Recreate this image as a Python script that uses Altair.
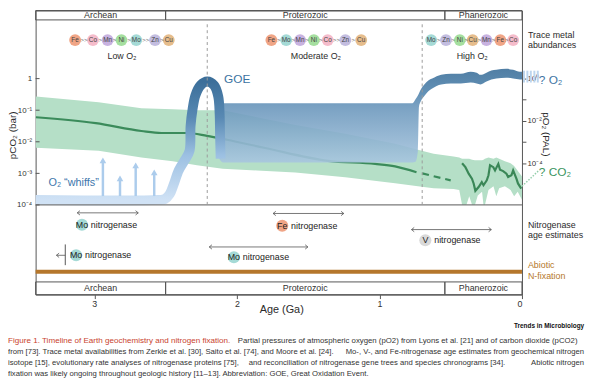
import altair as alt
import pandas as pd

FONT = "Liberation Sans"
INK = "#2b2b2b"
FRAME = "#555555"

# ---------------- data ----------------
era_names = ["Archean", "Proterozoic", "Phanerozoic"]
era_old = [3.412, 2.5, 0.541]
era_young = [2.5, 0.541, 0.0]

# pCO2 envelope (bar)
co2_band_age = [3.41, 2.97, 2.67, 2.45, 2.28, 2.10, 1.86, 1.59, 1.24, 0.89, 0.73, 0.62, 0.48, 0.44,
                0.42, 0.39, 0.37, 0.35, 0.33, 0.31, 0.28, 0.27, 0.26, 0.235, 0.20, 0.18, 0.16, 0.12,
                0.08, 0.055, 0.03, 0.0]
co2_band_hi = [0.27, 0.18, 0.115, 0.107, 0.10, 0.10, 0.060, 0.034, 0.018, 0.0087, 0.0056, 0.0042,
               0.0034, 0.0032, 0.0029, 0.0029, 0.0029, 0.0027, 0.0026, 0.0026, 0.0026, 0.0027, 0.0029,
               0.0032, 0.0029, 0.0032, 0.0029, 0.0024, 0.0021, 0.0017, 0.0012, 0.0008]
co2_band_lo = [0.0065, 0.0052, 0.0032, 0.0024, 0.0018, 0.0014, 0.00124, 0.00107, 0.00075, 0.00049,
               0.00039, 0.00034, 0.00032, 0.00030, 0.0001, 0.0001, 0.00019, 0.0001, 0.0001, 0.0002,
               0.00026, 0.0001, 0.0001, 0.0003, 0.00039, 0.00019, 0.00034, 0.00039, 0.0003, 0.00019,
               0.00026, 0.000145]
# pCO2 central estimate (bar)
co2_line_age = [3.41, 2.99, 2.67, 2.53, 2.35, 2.21, 2.07, 1.81, 1.36, 1.03, 0.89, 0.74]
co2_line_val = [0.060, 0.039, 0.022, 0.019, 0.019, 0.0154, 0.0116, 0.0065, 0.0025, 0.0020, 0.00166, 0.00108]
co2_dash_age = [0.70, 0.50]
co2_dash_val = [0.0010, 0.00060]
co2_phan_age = [0.420, 0.397, 0.385, 0.374, 0.351, 0.339, 0.327, 0.304, 0.282, 0.270, 0.247, 0.235,
                0.224, 0.201, 0.189, 0.166, 0.154, 0.132, 0.109, 0.097, 0.074, 0.062, 0.039, 0.028, 0.005]
co2_phan_val = [0.0021, 0.00157, 0.00124, 0.00098, 0.00068, 0.00048, 0.00028, 0.00037, 0.00053, 0.00042,
                0.00060, 0.00087, 0.0018, 0.00157, 0.00124, 0.0020, 0.0013, 0.00118, 0.00098, 0.00077,
                0.00087, 0.00124, 0.00068, 0.00048, 0.00033]

# pO2 envelope (PAL)
o2_band_age = [2.125, 2.097, 1.585, 0.893, 0.768, 0.747, 0.730, 0.723, 0.706, 0.685, 0.657, 0.630, 0.567,
               0.498, 0.429, 0.360, 0.318, 0.291, 0.249, 0.215, 0.180, 0.111, 0.062, 0.014, 0.0]
o2_band_hi = [0.069, 0.069, 0.069, 0.069, 0.069, 0.105, 0.16, 0.20, 0.34, 0.53, 0.81, 1.0, 1.5, 1.7, 1.7,
              2.1, 1.9, 1.5, 1.9, 2.4, 2.6, 2.9, 2.6, 2.1, 2.1]
o2_band_lo = [0.00017, 0.00011, 0.00011, 0.00011, 0.00011, 0.00012, 0.0004, 0.045, 0.095, 0.15, 0.25,
              0.34, 0.53, 0.59, 0.59, 0.65, 0.59, 0.53, 0.72, 0.90, 1.0, 1.1, 1.0, 0.90, 0.90]
# Archean baseline + GOE arch (PAL)
o2_arch_age = [3.412, 2.554, 2.505, 2.471, 2.443, 2.408, 2.367, 2.332, 2.325, 2.311, 2.291, 2.256,
               2.208, 2.159, 2.131, 2.121, 2.118, 2.114]
o2_arch_val = [1.9e-6, 1.9e-6, 2.1e-6, 3.6e-6, 1.05e-5, 4.7e-5, 1.38e-4, 4.0e-4, 5.8e-3, 0.036, 0.162,
               0.472, 0.725, 0.472, 0.146, 0.0212, 0.0020, 1.7e-4]
# O2 "whiffs"
whiff_age = [2.94, 2.82, 2.71, 2.58]
whiff_top = [1.4e-4, 2.0e-5, 8.1e-5, 3.8e-5]
whiff_base = 2.9e-6

# trace metal abundance sequences
metal_seq = {
    "Low O₂": (["Fe", "Co", "Mn", "Ni", "Mo", "Zn", "Cu"], [3.135, 3.010, 2.907, 2.810, 2.706, 2.574, 2.478],
               [">>", ">", ">", ">", ">>", ">"], 2.806),
    "Moderate O₂": (["Fe", "Mo", "Mn", "Ni", "Co", "Zn", "Cu"], [1.758, 1.654, 1.557, 1.460, 1.363, 1.239, 1.128],
                    [">", ">", ">", ">", ">>", ">"], 1.446),
    "High O₂": (["Mo", "Zn", "Ni", "Cu", "Mn", "Fe", "Co"], [0.637, 0.533, 0.436, 0.346, 0.249, 0.152, 0.062],
                [">", ">", ">", ">", ">", ">"], 0.349),
}
metal_names = ["Fe", "Co", "Mn", "Ni", "Mo", "Zn", "Cu", "V"]
metal_colors = ["#f0a586", "#f5bccb", "#c8b2e0", "#a5df9f", "#a5dad6", "#c3bde0", "#e6bd8c", "#d9d9d9"]

# nitrogenase age estimates
nif_metal = ["Mo", "Fe", "V", "Mo", "Mo"]
nif_old = [3.12, 1.746, 0.775, 2.194, 3.266]
nif_young = [2.692, 1.250, 0.215, 1.502, 3.204]
nif_label_age = [3.087, 1.682, 0.678, 2.021, 3.128]
nif_heads = ["both", "both", "both", "both", "old"]

# ---------------- layout (u = log10 pCO2 units on the left scale) ----------------
U_TOP, U_HEAD = 2.156, 1.859
U_METAL, U_REGIME = 1.219, 0.72
U_DASH_TOP, U_MAIN_BOTTOM = 1.72, -4.0
U_BROWN = (-6.053, -6.178)
U_FOOT, U_BOTTOM = -6.4375, -6.84
NIF_ARROW_U = [-4.25, -4.27, -4.78, -5.33, -5.594]
NIF_LABEL_U = [-4.625, -4.656, -5.12, -5.656, -5.594]

XS = alt.Scale(domain=[0, 3.412], reverse=True, zero=False, nice=False)
YU = alt.Scale(domain=[U_BOTTOM, U_TOP], zero=False, nice=False)
YO = alt.Scale(domain=[-10.186, 3.209], zero=False, nice=False)

x_axis = alt.Axis(values=[3, 2, 1, 0], format="d", tickSize=4, tickColor=FRAME, domain=False, grid=False,
                  labelFontSize=9, labelColor="#333", labelPadding=1, title="Age (Ga)", titleFontSize=11,
                  titleFontWeight="normal", titleColor=INK, titleX=249, titleY=15, titleBaseline="middle")
left_axis = alt.Axis(values=[0, -1, -2, -3, -4], tickSize=0, domain=False, grid=False, labelFontSize=8,
                     labelColor="#333", labelPadding=4,
                     labelExpr="datum.value == 0 ? '1' : '10' + (datum.value == -1 ? '⁻¹' : datum.value == -2 ? '⁻²' : datum.value == -3 ? '⁻³' : '⁻⁴')",
                     title="pCO₂ (bar)", titleFontSize=10, titleFontWeight="normal", titleColor=INK,
                     titleX=-23, titleY=126, titleAngle=-90, titleBaseline="middle")
right_axis = alt.Axis(orient="right", values=[0, -1, -2, -3, -4], tickSize=4, tickColor=FRAME, domain=False,
                      grid=False, labelFontSize=8, labelColor="#333", labelPadding=1,
                      labelExpr="datum.value == 0 ? '10⁰' : datum.value == -2 ? '10⁻²' : datum.value == -4 ? '10⁻⁴' : ''",
                      title="pO₂ (PAL)", titleFontSize=10, titleFontWeight="normal", titleColor=INK,
                      titleX=24, titleY=125, titleAngle=90, titleBaseline="middle")


def X(f="age", axis=None):
    return alt.X(f"{f}:Q", scale=XS, axis=axis)


def YUf(f, axis=None):
    return alt.Y(f"{f}:Q", scale=YU, axis=axis)


def YOf(f, axis=None):
    return alt.Y(f"{f}:Q", scale=YO, axis=axis)


LOG = "log(datum.{})/LN10"
layers = []

# ---- CO2 ----
df_band = pd.DataFrame({"age": co2_band_age, "hi": co2_band_hi, "lo": co2_band_lo})
layers.append(alt.Chart(df_band).transform_calculate(uh=LOG.format("hi"), ul=LOG.format("lo"))
              .mark_area(color="#b5dfc7", interpolate="linear")
              .encode(x=X("age", x_axis), y=YUf("uh", left_axis), y2="ul:Q"))
df_cl = pd.DataFrame({"age": co2_line_age, "v": co2_line_val})
layers.append(alt.Chart(df_cl).transform_calculate(u=LOG.format("v"))
              .mark_line(color="#3b8b5b", strokeWidth=2.2, interpolate="monotone")
              .encode(x=X(), y=YUf("u"), order=alt.Order("age:Q", sort="descending")))
df_cd = pd.DataFrame({"age": co2_dash_age, "v": co2_dash_val})
layers.append(alt.Chart(df_cd).transform_calculate(u=LOG.format("v"))
              .mark_line(color="#3b8b5b", strokeWidth=2.2, strokeDash=[7, 5])
              .encode(x=X(), y=YUf("u")))
df_cp = pd.DataFrame({"age": co2_phan_age, "v": co2_phan_val})
layers.append(alt.Chart(df_cp).transform_calculate(u=LOG.format("v"))
              .mark_line(color="#3a8757", strokeWidth=2.2, strokeJoin="miter")
              .encode(x=X(), y=YUf("u"), order=alt.Order("age:Q", sort="descending")))

# ---- O2 ----
o2_grad = alt.LinearGradient(gradient="linear", x1=0, x2=0, y1=0, y2=1, stops=[
    alt.GradientStop(color="#3d709a", offset=0), alt.GradientStop(color="#5184ad", offset=0.25),
    alt.GradientStop(color="#6b97bc", offset=0.4), alt.GradientStop(color="#a8c6df", offset=1)])
df_ob = pd.DataFrame({"age": o2_band_age, "hi": o2_band_hi, "lo": o2_band_lo})
layers.append(alt.Chart(df_ob).transform_calculate(lh=LOG.format("hi"), ll=LOG.format("lo"))
              .mark_area(color=o2_grad, opacity=0.9, interpolate="monotone")
              .encode(x=X(), y=YOf("lh", right_axis), y2="ll:Q"))
arch_grad = alt.LinearGradient(gradient="linear", x1=0, x2=0, y1=0, y2=1, stops=[
    alt.GradientStop(color="#3c6f9a", offset=0), alt.GradientStop(color="#5889b3", offset=0.3),
    alt.GradientStop(color="#9cc0e2", offset=0.62), alt.GradientStop(color="#d0e2f5", offset=1)])
df_arch = pd.DataFrame({"age": o2_arch_age, "v": o2_arch_val, "i": range(len(o2_arch_age))})
layers.append(alt.Chart(df_arch).transform_calculate(l=LOG.format("v"))
              .mark_line(color=arch_grad, strokeWidth=10, interpolate="catmull-rom", strokeCap="butt")
              .encode(x=X(), y=YOf("l"), order=alt.Order("i:Q")))
df_wh = pd.DataFrame({"age": whiff_age, "top": whiff_top, "base": [whiff_base] * len(whiff_age)})
layers.append(alt.Chart(df_wh).transform_calculate(lt=LOG.format("top"), lb=LOG.format("base"))
              .mark_rule(color="#acccec", strokeWidth=2.5)
              .encode(x=X(), y=YOf("lt"), y2="lb:Q"))
layers.append(alt.Chart(df_wh).transform_calculate(lt=LOG.format("top"))
              .mark_point(shape="triangle-up", filled=True, size=45, color="#acccec", opacity=1)
              .encode(x=X(), y=YOf("lt")))
# hatched continuation past present day
df_stub = pd.DataFrame({"age": [-0.014, -0.038, -0.062, -0.087, -0.111], "hi": [2.36] * 5, "lo": [0.652] * 5})
layers.append(alt.Chart(df_stub).transform_calculate(lh=LOG.format("hi"), ll=LOG.format("lo"))
              .mark_rule(color="#bcd5ee", strokeWidth=2)
              .encode(x=X(), y=YOf("lh"), y2="ll:Q"))

# ---- frame pieces ----
df_era = pd.DataFrame({"name": era_names, "old": era_old, "young": era_young})
df_era["mid"] = (df_era["old"] + df_era["young"]) / 2
for u1, u2 in [(U_TOP, U_HEAD), (U_FOOT, U_BOTTOM)]:
    d = df_era.assign(u1=u1, u2=u2, um=(u1 + u2) / 2)
    layers.append(alt.Chart(d).mark_rect(fill="white", fillOpacity=0, stroke=FRAME, strokeWidth=1)
                  .encode(x=X("old"), x2="young:Q", y=YUf("u1"), y2="u2:Q"))
    layers.append(alt.Chart(d).mark_text(fontSize=9, color="#333", baseline="middle")
                  .encode(x=X("mid"), y=YUf("um"), text="name:N"))

df_base = pd.DataFrame({"age": [3.412], "age2": [0.0], "u": [U_MAIN_BOTTOM]})
layers.append(alt.Chart(df_base).mark_rule(color="#7a7a7a", strokeWidth=1.2)
              .encode(x=X(), x2="age2:Q", y=YUf("u")))
df_ticks = pd.DataFrame({"u": [0, -1, -2, -3, -4]})
layers.append(alt.Chart(df_ticks).mark_rule(color=FRAME, strokeWidth=1)
              .encode(x=alt.value(0), x2=alt.value(4), y=YUf("u")))
df_dash = pd.DataFrame({"age": [2.208, 0.70], "u1": [U_DASH_TOP] * 2, "u2": [U_MAIN_BOTTOM] * 2})
layers.append(alt.Chart(df_dash).mark_rule(color="#9a9a9a", strokeWidth=1, strokeDash=[3, 3])
              .encode(x=X(), y=YUf("u1"), y2="u2:Q"))
df_brown = pd.DataFrame({"age": [3.412], "age2": [0.0], "u1": [U_BROWN[0]], "u2": [U_BROWN[1]]})
layers.append(alt.Chart(df_brown).mark_rect(color="#b5772c")
              .encode(x=X(), x2="age2:Q", y=YUf("u1"), y2="u2:Q"))

# ---- trace metals ----
rows, seps, regimes = [], [], []
for regime, (mets, ages, sp, lab_age) in metal_seq.items():
    for m, a in zip(mets, ages):
        rows.append({"metal": m, "age": a, "u": U_METAL})
    for k, s in enumerate(sp):
        seps.append({"s": s, "age": (ages[k] + ages[k + 1]) / 2, "u": U_METAL})
    regimes.append({"t": regime, "age": lab_age, "u": U_REGIME})
df_met = pd.DataFrame(rows)
color_scale = alt.Scale(domain=metal_names, range=metal_colors)
layers.append(alt.Chart(df_met).mark_point(filled=True, size=145, opacity=1, shape="circle")
              .encode(x=X(), y=YUf("u"), color=alt.Color("metal:N", scale=color_scale, legend=None)))
layers.append(alt.Chart(df_met).mark_text(fontSize=6.5, color="#444", baseline="middle")
              .encode(x=X(), y=YUf("u"), text="metal:N"))
layers.append(alt.Chart(pd.DataFrame(seps)).mark_text(fontSize=6, color="#666", baseline="middle")
              .encode(x=X(), y=YUf("u"), text="s:N"))
layers.append(alt.Chart(pd.DataFrame(regimes)).mark_text(fontSize=9, color=INK, baseline="middle")
              .encode(x=X(), y=YUf("u"), text="t:N"))

# ---- nitrogenase ----
df_nif = pd.DataFrame({"metal": nif_metal, "old": nif_old, "young": nif_young, "lab": nif_label_age,
                       "heads": nif_heads, "ua": NIF_ARROW_U, "ul": NIF_LABEL_U})
layers.append(alt.Chart(df_nif).mark_rule(color="#555", strokeWidth=0.8)
              .encode(x=X("old"), x2="young:Q", y=YUf("ua")))
head_rows = []
for r in df_nif.itertuples():
    head_rows.append({"age": r.old, "u": r.ua, "dir": "L"})
    if r.heads == "both":
        head_rows.append({"age": r.young, "u": r.ua, "dir": "R"})
df_heads = pd.DataFrame(head_rows)
layers.append(alt.Chart(df_heads[df_heads.dir == "L"]).mark_point(
    shape="M 1 -0.8 L 0 0 L 1 0.8", size=30, filled=False, color="#555", strokeWidth=0.8, opacity=1)
    .encode(x=X(), y=YUf("u")))
layers.append(alt.Chart(df_heads[df_heads.dir == "R"]).mark_point(
    shape="M -1 -0.8 L 0 0 L -1 0.8", size=30, filled=False, color="#555", strokeWidth=0.8, opacity=1)
    .encode(x=X(), y=YUf("u")))
df_bar = pd.DataFrame({"age": [3.204], "u1": [-5.25], "u2": [-5.906]})
layers.append(alt.Chart(df_bar).mark_rule(color="#555", strokeWidth=1)
              .encode(x=X(), y=YUf("u1"), y2="u2:Q"))
layers.append(alt.Chart(df_nif).mark_point(filled=True, size=150, opacity=1, shape="circle")
              .encode(x=X("lab"), y=YUf("ul"), color=alt.Color("metal:N", scale=color_scale, legend=None)))
layers.append(alt.Chart(df_nif).mark_text(fontSize=9, color="#222", baseline="middle")
              .encode(x=X("lab"), y=YUf("ul"), text="metal:N"))
layers.append(alt.Chart(df_nif.assign(t="nitrogenase")).mark_text(fontSize=9, color="#222", baseline="middle",
                                                                    align="left", dx=9)
              .encode(x=X("lab"), y=YUf("ul"), text="t:N"))


# ---- annotations ----
def note(texts, ages, us, color, size, align="left", weight="normal"):
    d = pd.DataFrame({"t": texts, "age": ages, "u": us})
    return (alt.Chart(d).mark_text(fontSize=size, color=color, align=align, baseline="middle", fontWeight=weight)
            .encode(x=X(), y=YUf("u"), text="t:N"))


layers.append(note(["GOE"], [2.09], [0.0], "#3b73a2", 12))
layers.append(note(["O₂ “whiffs”"], [3.322], [-3.3125], "#3d76ab", 11))
layers.append(note(["Trace metal", "abundances"], [-0.042, -0.042], [1.375, 1.0625], INK, 9))
layers.append(note(["?  O₂"], [-0.118], [-0.03], "#3d74a3", 12))
layers.append(note(["?  CO₂"], [-0.118], [-2.95], "#3a9460", 12))
layers.append(note(["Nitrogenase", "age estimates"], [-0.042, -0.042], [-4.625, -4.94], INK, 9))
layers.append(note(["Abiotic", "N-fixation"], [-0.042, -0.042], [-5.906, -6.25], "#b5772c", 9))
df_dot = pd.DataFrame({"age": [0.0, -0.118], "u": [-3.41, -2.91]})
layers.append(alt.Chart(df_dot).mark_line(color="#93cdaa", strokeWidth=1.5, strokeDash=[1.5, 1.5])
              .encode(x=X(), y=YUf("u")))

# ---- caption (justified lines split into parts) ----
cap_red = "Figure 1. Timeline of Earth geochemistry and nitrogen fixation."
cap_line1 = "Partial pressures of atmospheric oxygen (pO2) from Lyons et al. [21] and of carbon dioxide (pCO2)"
cap_line2 = ("from [73]. Trace metal availabilities from Zerkle et al. [30], Saito et al. [74], and Moore et al. [24].",
             "Mo-, V-, and Fe-nitrogenase age estimates from geochemical nitrogen")
cap_line3 = ("isotope [15], evolutionary rate analyses of nitrogenase proteins [75],",
             "and reconciliation of nitrogenase gene trees and species chronograms [34].",
             "Abiotic nitrogen")
cap_last = "fixation was likely ongoing throughout geologic history [11–13]. Abbreviation: GOE, Great Oxidation Event."
CAP_SIZE = 7.8
CAP_LEFT, CAP_RIGHT = -28, 556


def cap(text, x, y, color="#333", align="left", size=CAP_SIZE, weight="normal"):
    return (alt.Chart(pd.DataFrame({"t": [text]}))
            .mark_text(fontSize=size, color=color, align=align, baseline="middle", fontWeight=weight)
            .encode(x=alt.value(x), y=alt.value(y), text="t:N"))


layers.append(cap("Trends in Microbiology", CAP_RIGHT, 320, color="#111", align="right", size=6.5, weight="bold"))
layers.append(cap(cap_red, CAP_LEFT, 335, color="#c9432e", size=8.2))
layers.append(cap(cap_line1, 205, 335, size=7.9))
layers.append(cap(cap_line2[0], CAP_LEFT, 346))
layers.append(cap(cap_line2[1], CAP_RIGHT, 346, align="right"))
layers.append(cap(cap_line3[0], CAP_LEFT, 357))
layers.append(cap(cap_line3[1], 346, 357, align="center"))
layers.append(cap(cap_line3[2], CAP_RIGHT, 357, align="right"))
layers.append(cap(cap_last, CAP_LEFT, 368))

chart = (alt.layer(*layers)
         .resolve_scale(y="independent")
         .resolve_axis(x="independent")
         .properties(width=493, height=288, autosize=alt.AutoSizeParams(type="none"),
                     padding={"left": 28, "top": 0, "right": 72, "bottom": 87})
         .configure(font=FONT)
         .configure_view(stroke=FRAME, strokeWidth=1))

chart.save("out.html", embed_options={"renderer": "svg", "actions": False})
